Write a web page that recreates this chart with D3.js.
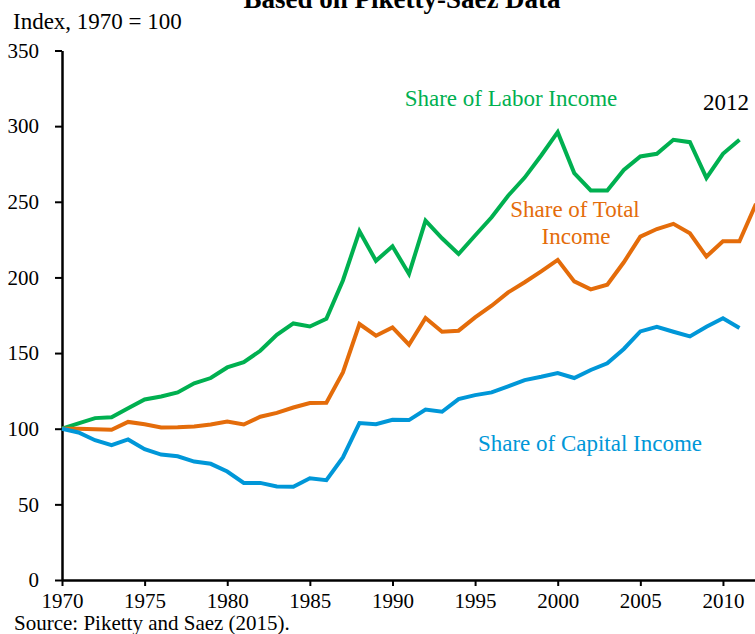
<!DOCTYPE html>
<html>
<head>
<meta charset="utf-8">
<script src="https://cdn.jsdelivr.net/npm/d3@7"></script>
<style>
  body { margin: 0; background: #fff; }
  svg text { font-family: "Liberation Serif", "Times New Roman", serif; }
</style>
</head>
<body>
<div id="chart"></div>
<script>
// years 1970-2012
var years = d3.range(1970, 2013);

var labor = [100, 103.5, 107, 107.5, 113.5, 119.3, 121.3, 124, 130, 133.5,
  140.5, 144, 151.5, 162, 169.6, 167.6, 172.7, 198, 230.5, 211,
  220.6, 202.3, 237.6, 225.9, 215.5, 227.7, 239.8, 254, 266, 280.6,
  296, 269, 257.5, 257.5, 271, 280, 281.7, 291, 289.4, 265.8,
  281.7, 291];

var total = [100, 100, 99.6, 99.3, 104.5, 103, 100.8, 101, 101.5, 102.8,
  104.8, 102.8, 107.9, 110.5, 114, 117, 117.2, 137.2, 169.2, 161.5,
  167, 155.5, 173.2, 164.1, 164.8, 173.6, 181.3, 190.1, 196.8, 204,
  211.6, 197.4, 192.1, 195.2, 210, 227, 232, 235.4, 229.2, 213.8,
  223.9, 223.9, 248.6];

var capital = [100, 97.5, 92.4, 89.1, 92.9, 86.5, 82.9, 81.8, 78.3, 76.8,
  71.7, 64.2, 64.2, 61.8, 61.7, 67.3, 66, 81, 103.7, 103,
  105.9, 105.7, 112.7, 111.2, 119.6, 122.2, 124, 128, 132.1, 134.3,
  136.8, 133.5, 138.8, 143.2, 152.7, 164.3, 167.4, 164.1, 161, 167.4,
  173, 166.6];

var xTicks = [1970, 1975, 1980, 1985, 1990, 1995, 2000, 2005, 2010];
var yTicks = [0, 50, 100, 150, 200, 250, 300, 350];

var width = 755, height = 634;
var serif = '"Liberation Serif", "Times New Roman", serif';

var svg = d3.select("#chart")
  .append("svg")
  .attr("width", width)
  .attr("height", height);

var xScale = d3.scaleLinear().domain([1970, 2012]).range([62, 756]);
var yScale = d3.scaleLinear().domain([0, 350]).range([580, 50.5]);

// title (cut off at top)
svg.append("text")
  .attr("x", 402)
  .attr("y", 8)
  .attr("text-anchor", "middle")
  .attr("font-size", "27px")
  .attr("font-weight", "bold")
  .text("Based on Piketty-Saez Data");

svg.append("text")
  .attr("x", 13)
  .attr("y", 29)
  .attr("font-size", "23px")
  .text("Index, 1970 = 100");

// axes
var leftAxis = d3.axisLeft(yScale).tickValues(yTicks).tickSize(7).tickPadding(16).tickSizeOuter(0);
var botAxis = d3.axisBottom(xScale).tickValues(xTicks).tickFormat(d3.format("d")).tickSize(6).tickPadding(7).tickSizeOuter(0);

var gy = svg.append("g")
  .attr("transform", "translate(62,0)")
  .call(leftAxis);

var gx = svg.append("g")
  .attr("transform", "translate(0,580)")
  .call(botAxis);

[gx, gy].forEach(function(g) {
  g.attr("font-family", null);
  g.select(".domain").attr("stroke", "#000").attr("stroke-width", 2.5);
  g.selectAll(".tick line").attr("stroke", "#000").attr("stroke-width", 2);
  g.selectAll(".tick text")
    .attr("fill", "#000")
    .style("font-size", "21px")
    .style("font-family", serif);
});

// lines
var line = d3.line()
  .x(function(d, i) { return xScale(years[i]); })
  .y(function(d) { return yScale(d); });

var series = [
  {values: labor, color: "#00b050"},
  {values: total, color: "#e46c0a"},
  {values: capital, color: "#0097d8"}
];

series.forEach(function(s) {
  svg.append("path")
    .datum(s.values)
    .attr("fill", "none")
    .attr("stroke", s.color)
    .attr("stroke-width", 4)
    .attr("stroke-linejoin", "miter")
    .attr("d", line);
});

// labels
svg.append("text")
  .attr("x", 511).attr("y", 106)
  .attr("text-anchor", "middle")
  .attr("font-size", "23px")
  .attr("fill", "#00b050")
  .text("Share of Labor Income");

svg.append("text")
  .attr("x", 575).attr("y", 217)
  .attr("text-anchor", "middle")
  .attr("font-size", "23px")
  .attr("fill", "#e46c0a")
  .text("Share of Total");

svg.append("text")
  .attr("x", 576).attr("y", 244)
  .attr("text-anchor", "middle")
  .attr("font-size", "23px")
  .attr("fill", "#e46c0a")
  .text("Income");

svg.append("text")
  .attr("x", 590).attr("y", 451)
  .attr("text-anchor", "middle")
  .attr("font-size", "23px")
  .attr("fill", "#0097d8")
  .text("Share of Capital Income");

svg.append("text")
  .attr("x", 703).attr("y", 110)
  .attr("font-size", "23px")
  .attr("fill", "#000")
  .text("2012");

svg.append("text")
  .attr("x", 14).attr("y", 630)
  .attr("font-size", "21px")
  .text("Source: Piketty and Saez (2015).");
</script>
</body>
</html>
